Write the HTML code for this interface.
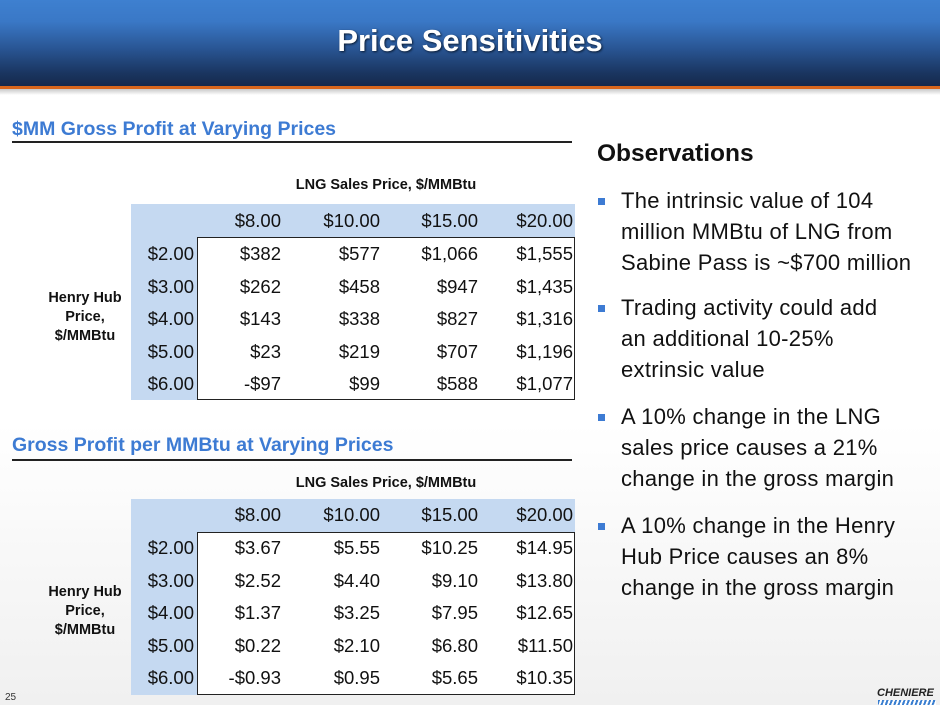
<!DOCTYPE html>
<html><head><meta charset="utf-8"><style>
*{margin:0;padding:0;box-sizing:border-box}
body{width:940px;height:705px;position:relative;overflow:hidden;background:linear-gradient(#fff 60%,#f0f0f0);font-family:"Liberation Sans",sans-serif}
.hdr{position:absolute;left:0;top:0;width:940px;height:86px;background:linear-gradient(#3e80d0 0%,#3a78c6 25%,#2a5796 55%,#1a3560 85%,#15294c 100%)}
.hdr div{position:absolute;width:100%;top:23px;text-align:center;color:#fff;font-weight:bold;font-size:31px;text-shadow:1px 1px 2px #0a1a30}
.or{position:absolute;left:0;top:86px;width:940px;height:3px;background:#d9661c}
.sh{position:absolute;left:0;top:89px;width:940px;height:6px;background:linear-gradient(#c8c8c8,rgba(255,255,255,0))}
.st{position:absolute;left:12px;color:#3d7bd3;font-weight:bold;font-size:19.5px;white-space:nowrap}
.ul{position:absolute;left:12px;width:560px;height:1.5px;background:#222}
.tt{position:absolute;left:197px;width:378px;text-align:center;font-weight:bold;font-size:14.5px;color:#111}
.blue{position:absolute;background:#c5d9f1}
.box{position:absolute;left:197px;width:378px;height:163px;border:1.5px solid #222;background:#fff}
.c{position:absolute;font-size:18.5px;color:#111;text-align:right;line-height:20px}
.hh{position:absolute;left:35px;width:100px;text-align:center;font-weight:bold;font-size:14.5px;line-height:19px;color:#111}
.obs{position:absolute;left:597px;top:140px;font-weight:bold;font-size:24.5px;color:#111}
.b{position:absolute;left:621px;font-size:22px;letter-spacing:0.3px;line-height:31px;color:#111;white-space:nowrap}
.sq{position:absolute;left:598px;width:7px;height:7px;background:#3d7bd3}
</style></head><body>
<div class="hdr"><div>Price Sensitivities</div></div>
<div class="or"></div><div class="sh"></div>

<div class="st" style="top:118px">$MM Gross Profit at Varying Prices</div>
<div class="ul" style="top:141px"></div>
<div class="st" style="top:434px">Gross Profit per MMBtu at Varying Prices</div>
<div class="ul" style="top:459px"></div>

<div class="tt" style="top:177px">LNG Sales Price, $/MMBtu</div>
<div class="blue" style="left:131px;top:204px;width:444px;height:33px"></div>
<div class="blue" style="left:131px;top:237px;width:66px;height:163px"></div>
<div class="box" style="top:237px"></div>
<div class="hh" style="top:289px">Henry Hub<br>Price,<br>$/MMBtu</div>

<div class="tt" style="top:475px">LNG Sales Price, $/MMBtu</div>
<div class="blue" style="left:131px;top:499px;width:444px;height:33px"></div>
<div class="blue" style="left:131px;top:532px;width:66px;height:163px"></div>
<div class="box" style="top:532px"></div>
<div class="hh" style="top:583px">Henry Hub<br>Price,<br>$/MMBtu</div>

<div id="t"></div>

<div class="obs">Observations</div>
<div class="sq" style="top:198px"></div>
<div class="b" style="top:185px">The intrinsic value of 104<br>million MMBtu of LNG from<br>Sabine Pass is ~$700 million</div>
<div class="sq" style="top:305px"></div>
<div class="b" style="top:292px">Trading activity could add<br>an additional 10-25%<br>extrinsic value</div>
<div class="sq" style="top:414px"></div>
<div class="b" style="top:401px">A 10% change in the LNG<br>sales price causes a 21%<br>change in the gross margin</div>
<div class="sq" style="top:523px"></div>
<div class="b" style="top:510px">A 10% change in the Henry<br>Hub Price causes an 8%<br>change in the gross margin</div>

<div style="position:absolute;left:5px;top:692px;font-size:10px;color:#333">25</div>
<div style="position:absolute;left:877px;top:687px;font-size:11px;font-weight:bold;font-style:italic;color:#222">CHENIERE</div>
<div style="position:absolute;left:878px;top:700px;width:58px;height:5px;background:repeating-linear-gradient(110deg,#3b7fd0 0 2px,#fff 2px 4px)"></div>

<script>
var hdr=["$8.00","$10.00","$15.00","$20.00"],rows=["$2.00","$3.00","$4.00","$5.00","$6.00"];
var d1=[["$382","$577","$1,066","$1,555"],["$262","$458","$947","$1,435"],["$143","$338","$827","$1,316"],["$23","$219","$707","$1,196"],["-$97","$99","$588","$1,077"]];
var d2=[["$3.67","$5.55","$10.25","$14.95"],["$2.52","$4.40","$9.10","$13.80"],["$1.37","$3.25","$7.95","$12.65"],["$0.22","$2.10","$6.80","$11.50"],["-$0.93","$0.95","$5.65","$10.35"]];
var rx=[281,380,478,573],h="";
function cell(t,r,y){h+='<div class="c" style="left:'+(r-120)+'px;width:120px;top:'+(y-10)+'px">'+t+'</div>';}
function tab(d,hy,ry){
 hdr.forEach(function(t,i){cell(t,rx[i],hy);});
 rows.forEach(function(t,j){var y=ry+j*32.5;cell(t,194,y);d[j].forEach(function(v,i){cell(v,rx[i],y);});});
}
tab(d1,221,254);tab(d2,515,548);
document.getElementById("t").innerHTML=h;
</script>
</body></html>
